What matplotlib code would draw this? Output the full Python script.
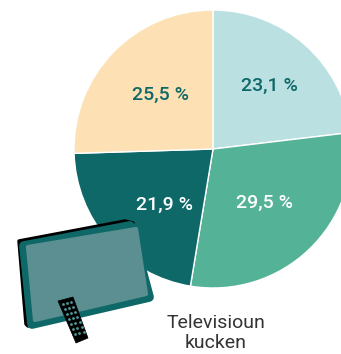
import matplotlib.pyplot as plt
import numpy as np
from matplotlib.patches import Polygon

WIDTH, HEIGHT = 341, 354

# shares of the pie, clockwise from the top
shares = [23.1, 29.5, 21.9, 25.5]
share_labels = ["23,1 %", "29,5 %", "21,9 %", "25,5 %"]
wedge_colors = ["#BAE0E2", "#54B296", "#0E6868", "#FDE0B3"]
label_colors = ["#0E6868", "white", "white", "#0E6868"]
label_pos = [(269, 86), (265, 203), (164, 205), (160, 95)]
caption = "Televisioun\nkucken"

TEAL = "#0E6868"
SCREEN = "#5B8F91"


def py(y):
    # picture rows run downwards, the axes upwards
    return HEIGHT - y


def poly(ax, pts, color, lw=0.0, zorder=3):
    xy = [(x, py(y)) for x, y in pts]
    ax.add_patch(
        Polygon(xy, closed=True, facecolor=color, edgecolor=color, linewidth=lw,
                joinstyle="round", zorder=zorder)
    )


fig = plt.figure(figsize=(WIDTH / 100, HEIGHT / 100), dpi=100)
ax = fig.add_axes([0, 0, 1, 1])

ax.pie(
    shares,
    colors=wedge_colors,
    startangle=90,
    counterclock=False,
    center=(213, py(149)),
    radius=139,
    wedgeprops={"edgecolor": "white", "linewidth": 1.0},
)
ax.set_xlim(0, WIDTH)
ax.set_ylim(0, HEIGHT)
ax.set_aspect("equal")
ax.axis("off")

for text, color, (x, y) in zip(share_labels, label_colors, label_pos):
    ax.text(x, py(y), text, color=color, ha="center", va="center",
            family="Roboto", weight="medium", fontsize=14, zorder=2)

# television
poly(ax, [(19, 241), (125, 221), (133, 223), (28, 326), (26, 324)], "black", lw=2.5, zorder=3)
poly(ax, [(24, 246), (130, 226), (149, 297), (32, 324)], TEAL, lw=7, zorder=4)
poly(ax, [(28, 247), (136, 229), (146, 294), (35, 320)], SCREEN, lw=3, zorder=5)

# remote control
poly(ax, [(58, 301), (73, 297), (88, 338), (76, 343)], "black", lw=0.5, zorder=6)
top_left = np.array([62.5, 304.0])
step_across = np.array([4.3, -1.2])
step_down = np.array([2.1, 5.0])
for row in range(7):
    for col in range(3):
        x, y = top_left + col * step_across + row * step_down
        ax.plot(x, py(y), "o", ms=2.0, color="#4F9A9C", mew=0, zorder=7)

ax.text(216, py(333), caption, color="#333333", ha="center", va="center",
        family="Roboto", fontsize=14, linespacing=1.2)

fig.savefig("out.png", dpi=100)
